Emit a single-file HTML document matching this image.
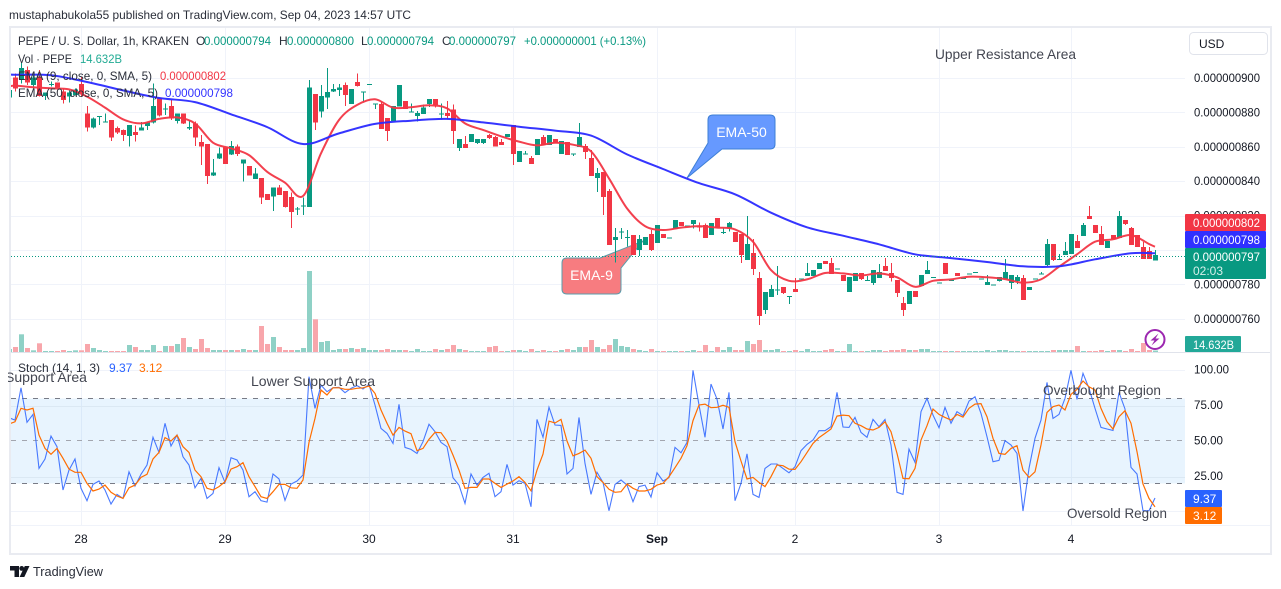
<!DOCTYPE html>
<html lang="en">
<head>
<meta charset="utf-8">
<title>PEPE / U.S. Dollar chart</title>
<style>
html,body{margin:0;padding:0;background:#fff;width:1281px;height:589px;overflow:hidden}
svg{display:block;font-family:"Liberation Sans",sans-serif}
text{white-space:pre}
</style>
</head>
<body>
<svg id="chart" xmlns="http://www.w3.org/2000/svg" width="1281" height="589" viewBox="0 0 1281 589">
<defs>
<clipPath id="priceClip"><rect x="11" y="28" width="1174" height="324"/></clipPath>
<clipPath id="stochClip"><rect x="11" y="353" width="1174" height="172"/></clipPath>
<clipPath id="textClip"><rect x="8" y="353" width="400" height="172"/></clipPath>
</defs>
<rect width="1281" height="589" fill="#fff"/>
<text x="9" y="19" font-size="12" fill="#2a2e39" textLength="402" lengthAdjust="spacingAndGlyphs">mustaphabukola55 published on TradingView.com, Sep 04, 2023 14:57 UTC</text>
<rect x="10" y="27" width="1261" height="527" fill="none" stroke="#e9ebf1" stroke-width="2"/>
<g id="gridLayer"></g>
<g clip-path="url(#priceClip)">
  <path d="M567,258 H600 L643,241 L621,268 V289 Q621,294 616,294 H567 Q562,294 562,289 V263 Q562,258 567,258 Z" fill="#f77c80" stroke="#5b9cab" stroke-width="1"/>
  <path d="M713,115 H770 Q775,115 775,120 V144 Q775,149 770,149 H722 L687,178 L708,143 V120 Q708,115 713,115 Z" fill="#6699ff" stroke="#3d7fd6" stroke-width="1"/>
  <g id="volumeLayer"></g>
  <g id="candleLayer" shape-rendering="crispEdges"></g>
  <g id="emaLayer"></g>
  <line x1="11" x2="1185" y1="256.5" y2="256.5" stroke="#089981" stroke-width="1" stroke-dasharray="1 2"/>
  <text x="591.5" y="280" font-size="14" fill="#fff" text-anchor="middle">EMA-9</text>
  <text x="741.5" y="137" font-size="14" fill="#fff" text-anchor="middle">EMA-50</text>
  <text x="935" y="59" font-size="14" fill="#434651" textLength="141" lengthAdjust="spacingAndGlyphs">Upper Resistance Area</text>
</g>
<g id="stochGrid"></g>
<g id="stochLayer" clip-path="url(#stochClip)"></g>
<line x1="11" x2="1270" y1="352.5" y2="352.5" stroke="#e0e3eb" stroke-width="1"/>
<line x1="11" x2="1270" y1="525.5" y2="525.5" stroke="#f0f3fa" stroke-width="1"/>
<g id="axisLayer"></g>

<g font-size="12" fill="#2a2e39">
  <text x="18" y="45" textLength="171" lengthAdjust="spacingAndGlyphs">PEPE / U. S. Dollar, 1h, KRAKEN</text>
  <text x="196" y="45">O</text>
  <text x="204" y="45" fill="#089981" textLength="67" lengthAdjust="spacingAndGlyphs">0.000000794</text>
  <text x="279" y="45">H</text>
  <text x="287" y="45" fill="#089981" textLength="67" lengthAdjust="spacingAndGlyphs">0.000000800</text>
  <text x="361" y="45">L</text>
  <text x="367" y="45" fill="#089981" textLength="67" lengthAdjust="spacingAndGlyphs">0.000000794</text>
  <text x="442" y="45">C</text>
  <text x="449" y="45" fill="#089981" textLength="67" lengthAdjust="spacingAndGlyphs">0.000000797</text>
  <text x="524" y="45" fill="#089981" textLength="122" lengthAdjust="spacingAndGlyphs">+0.000000001 (+0.13%)</text>
  <text x="18" y="63" textLength="54" lengthAdjust="spacingAndGlyphs">Vol · PEPE</text>
  <text x="80" y="63" fill="#22ab94" textLength="42" lengthAdjust="spacingAndGlyphs">14.632B</text>
  <text x="18" y="80" textLength="134" lengthAdjust="spacingAndGlyphs">EMA (9, close, 0, SMA, 5)</text>
  <text x="160" y="80" fill="#f23645" textLength="66" lengthAdjust="spacingAndGlyphs">0.000000802</text>
  <text x="18" y="97" textLength="140" lengthAdjust="spacingAndGlyphs">EMA (50, close, 0, SMA, 5)</text>
  <text x="165" y="97" fill="#3333ff" textLength="68" lengthAdjust="spacingAndGlyphs">0.000000798</text>
  <text x="18" y="372" textLength="82" lengthAdjust="spacingAndGlyphs">Stoch (14, 1, 3)</text>
  <text x="109" y="372" fill="#2962ff">9.37</text>
  <text x="139" y="372" fill="#ff6d00">3.12</text>
</g>

<g clip-path="url(#textClip)">
  <text x="5" y="382" font-size="14" fill="#434651" textLength="82" lengthAdjust="spacingAndGlyphs">Support Area</text>
</g>
<text x="251" y="386" font-size="14" fill="#434651" textLength="124" lengthAdjust="spacingAndGlyphs">Lower Support Area</text>
<text x="1043" y="395" font-size="14" fill="#434651" textLength="118" lengthAdjust="spacingAndGlyphs">Overbought Region</text>
<text x="1067" y="518" font-size="14" fill="#434651" textLength="100" lengthAdjust="spacingAndGlyphs">Oversold Region</text>

<rect x="1189.5" y="32.5" width="78" height="22" rx="4" fill="#fff" stroke="#e0e3eb"/>
<text x="1199" y="48" font-size="12" fill="#131722">USD</text>

<g>
  <rect x="1185" y="214" width="81" height="17" rx="1" fill="#f23645"/>
  <text x="1193" y="227" font-size="12" fill="#fff" textLength="67" lengthAdjust="spacingAndGlyphs">0.000000802</text>
  <rect x="1185" y="231" width="81" height="17" rx="1" fill="#3030ff"/>
  <text x="1193" y="244" font-size="12" fill="#fff" textLength="67" lengthAdjust="spacingAndGlyphs">0.000000798</text>
  <rect x="1185" y="248" width="81" height="31" rx="1" fill="#089981"/>
  <text x="1193" y="261" font-size="12" fill="#fff" textLength="67" lengthAdjust="spacingAndGlyphs">0.000000797</text>
  <text x="1193" y="275" font-size="12" fill="#d5efe9">02:03</text>
  <rect x="1185" y="336" width="56" height="16" rx="1" fill="#22a898"/>
  <text x="1193" y="349" font-size="12" fill="#fff" textLength="41" lengthAdjust="spacingAndGlyphs">14.632B</text>
  <rect x="1185" y="490" width="37" height="17" rx="1" fill="#2962ff"/>
  <text x="1193" y="503" font-size="12" fill="#fff">9.37</text>
  <rect x="1185" y="507" width="37" height="17" rx="1" fill="#ff6d00"/>
  <text x="1193" y="520" font-size="12" fill="#fff">3.12</text>
</g>

<g>
  <circle cx="1155" cy="339.5" r="9.5" fill="#fff" fill-opacity="0.7" stroke="#9c27b0" stroke-width="2"/>
  <polygon points="1158.5,333.5 1150.5,340.5 1154.5,340.5 1151.5,345.5 1159.5,338.5 1155.5,338.5" fill="#9c27b0"/>
</g>

<g fill="#131722">
  <path d="M10,566 H19 V577 H14.5 V570.5 H10 Z"/>
  <circle cx="21.7" cy="568.4" r="2.4"/>
  <path d="M19.6,577 L24.8,566 H29.5 L24.3,577 Z"/>
</g>
<text x="33" y="576" font-size="13" fill="#2a2e39" textLength="70" lengthAdjust="spacingAndGlyphs">TradingView</text>
</svg>

<script>
// Prices are in units of 0.000000001 USD; volumes in billions. Index 0 is the clipped bar at the left edge.
const opens = [
888.8,900.4,898.9,904.7,896,900.8,889.5,896,897.3,892.1,
889.2,890.1,896.5,879.5,871.1,877.5,874.2,875.6,870.9,869.8,
866.3,868.6,869.4,872.1,874,888.8,881.6,883.7,875,879.5,
870.7,873.6,862.8,861.6,843.2,853.1,859.7,855.4,860.1,850.2,
848.8,841.4,841.8,832.5,831,836.4,834.3,830.8,823.6,825.5,
825.1,890.7,880.4,888.6,892.1,893,896,884.9,897.7,891.9,
896.3,885.1,884.9,876.7,875,883.3,886.6,880.4,877.9,879.1,
884.9,887.8,879.3,879.7,881.8,859.3,861.6,862.8,862.2,862.2,
866.9,865.7,862.8,865.7,872.7,851.1,856,853.5,855.2,865.7,
861,864.5,855.8,862.8,856,859.9,860.4,853.5,841.8,845.3,
834.3,805.8,810.4,807.4,808.7,800,802.9,809.3,804.1,809.3,
807.3,812.2,816.3,814,815.1,813.6,814.5,808.7,818.6,810.4,
812.8,810.5,809.3,794.2,798.2,783.7,765.1,772.6,776.9,778.4,
773,777.3,783.4,784.8,784.8,788.9,793.6,792.4,789.2,785.4,
775.5,781.9,786.6,782.5,780.8,783.7,790.7,786.6,782.5,769.1,
768.5,776.1,779,786,784.1,781.1,792.4,782.4,786.6,783.6,
786.3,787.1,783.4,779.6,779.7,781.9,783.1,780.8,781.9,783.7,
776.7,783.4,786.3,791.2,803.5,794.7,797.1,797.6,805.2,808.1,
819.8,814.5,809.3,801.1,808.7,807,817.4,812.8,808.7,801.7,
799.4,794];
const highs = [
893,902.7,908.6,906.6,902.7,904.7,891.7,897.9,897.3,894,
893,894,900.8,883.7,877.1,877.9,879.5,875.6,871.7,870.1,
872.7,872.5,874.4,874.6,896.9,888.8,885.3,887.2,879.5,879.5,
875.6,874.6,866.9,861.6,852.9,859.7,859.7,863.5,861.4,852.7,
848.8,847.8,841.8,832.5,836.4,837.8,834.3,833.5,825.1,830.4,
898.9,890.7,896,905.7,896.5,896.5,897.5,893.6,902.7,892.1,
896.5,885.3,886.3,876.7,883.7,896,886.6,885.3,880.8,884.7,
887.8,887.8,885.3,886.6,884.7,864.5,866.3,867.4,864.5,864.5,
867.4,866.3,864.5,867.4,872.7,857.5,857.5,854.6,864.5,866.9,
866.9,864.5,863.4,862.8,856.2,873.8,861.6,858.1,847.6,845.3,
835.4,812.8,812.8,811.6,808.7,808.7,807.5,811.6,814.5,809.3,
807.4,817.4,816.3,814.1,817.4,815.9,815.5,815.7,818.6,812.8,
816.3,810.5,809.3,819.8,806.4,787.2,775.5,779.6,790.7,778.4,
773.2,783.7,783.5,792.4,788.3,792.4,793.6,795.3,789.3,785.4,
784.3,786.6,786.6,784.8,788.3,791.8,795.3,792.4,782.5,772.6,
776.1,776.1,785.4,793.6,784.2,781.2,792.4,782.5,786.6,783.7,
786.4,787.2,783.5,785.4,779.8,784.3,794.7,785.4,785.4,785.4,
778.4,783.5,787.2,806.4,803.5,797.7,804.6,809.3,808.7,815.7,
825.6,814.5,813.9,805.2,808.7,822.7,817.4,813.4,808.7,804.6,
801.7,800];
const lows = [
888.8,892.1,896.9,896,894,889.2,887.2,895,894.6,885.3,
885.7,889.7,889.2,868.8,870.7,872.7,874,863.5,867.4,863.3,
860.1,863,869.4,869.8,873.6,877.5,878.5,875.6,873.6,873.3,
869.8,860.4,849.4,838.3,843,852.9,850,855.2,854.6,839.7,
843.2,841.2,826.7,829,822.8,831.9,824.8,812.9,820.3,820.3,
825.1,869.8,877,882,891.9,889.5,883.7,884.9,895,885.9,
896.3,882,870.3,863.4,875,883.3,882,880.4,874.6,879.1,
883,882.8,876,876,861.6,857.5,859.3,862.8,861.6,861.6,
864.5,860.1,861,865.7,849.4,851.1,855.8,850,855.2,861,
861,862.2,855.8,855.2,854.6,859.9,852.9,843,833.7,820.3,
802.8,792.6,806.4,801.9,797.1,796.5,802.9,799.4,804.1,807,
807.3,812.2,813.9,814,812.6,810.7,807,808.7,812.8,809.3,
810.7,804.6,792.4,794.2,785.4,756.3,762.7,772.6,773.8,774.4,
768.6,775.5,783.4,784.8,784.8,788.9,791.8,786,789.2,781.9,
775.5,781.9,782.5,781.9,779.6,783.7,787.8,781.6,772.6,761.6,
768.5,772.6,779,786,784.1,781.1,786,782.4,784.8,783.6,
786.3,787.1,783.4,779.6,779.7,781.6,783.1,777.3,780.2,770.9,
776.7,783.4,786,790.7,793.6,794.2,797.1,797.6,801.1,808.1,
818,809.9,802.9,801.1,806.4,807,814.5,802.9,801.7,794.8,
794.8,794];
const closes = [
893,894,905.7,897.3,900.4,889.5,891.7,896.5,894.6,887.2,
891.7,893.4,891.1,871.1,876.5,877.9,874.6,865.3,868.2,866.9,
872.7,867,871.3,874.2,883.7,878.1,882.2,876.4,879.5,873.6,
871.5,865.5,860.1,843,845.1,856.2,850,860.4,855.8,852.7,
843.2,844.5,830.4,829.2,836.4,832.1,824.9,822,824,825.9,
894.6,874,889.5,891.9,893.6,894.6,890.1,893.6,895.4,892.1,
896.5,885.3,870.3,869.2,883.7,896,882,880.6,879.7,882.8,
887.8,884.3,879.5,877.9,869.2,864.5,859.3,867.4,864.5,864.5,
865.1,860.1,861,867.4,855.8,857.5,856.2,850,864.5,861,
866.9,862.2,863.4,855.2,856.2,865.7,857,843,844.7,830.8,
802.8,807.5,810.7,807.6,797.1,806.4,807.5,800,814.5,807,
807.4,817.4,813.9,814.1,817.4,813.4,807,815.7,812.8,810.6,
815.7,804.6,797.1,803.5,788.9,761.6,775.5,777.3,777.1,775,
773.2,775.5,783.5,786.6,788.3,792.4,791.8,786,789.3,781.9,
784.3,786.6,783.1,782.7,788.3,787.2,787.8,783.7,775,765.1,
776.1,772.6,785.4,788.3,784.2,781.2,786,782.5,784.8,783.7,
786.4,787.2,783.5,781.4,779.8,784.3,787.2,785.4,784.3,770.9,
778.4,783.5,786.4,803.5,794.2,794.8,799.4,809.3,801.1,814.5,
818,809.9,802.9,805.2,806.4,819.8,815.1,802.9,801.7,794.8,
794.8,797];
const volumes = [
30,50,177,40,17,87,10,10,10,20,
10,17,17,80,40,20,10,10,10,10,
70,50,20,20,70,10,60,60,80,140,
50,30,130,40,20,20,20,20,20,30,
20,20,260,80,150,50,20,20,20,40,
810,327,100,110,20,30,30,40,30,40,
20,20,20,30,20,20,20,10,30,10,
10,30,20,30,70,30,20,10,10,10,
50,60,10,10,20,20,10,30,10,20,
10,10,20,30,20,50,50,120,50,30,
70,130,60,50,30,20,10,30,10,10,
10,10,10,10,20,10,70,10,50,20,
50,20,20,110,80,120,20,20,30,10,
10,20,10,30,10,10,20,30,10,10,
80,10,10,10,20,20,10,20,20,30,
20,20,30,30,10,10,10,10,10,10,
10,10,10,20,10,20,20,10,10,10,
10,10,10,10,20,20,20,20,60,10,
10,10,20,10,20,20,10,30,10,90,
20,14.632];

const ema9Bars = [0,1,4,7,10,13,16,19,22,25,28,31,34,37,40,43,46,49,52,55,58,61,64,67,70,73,76,79,82,85,88,91,94,97,100,103,106,109,112,115,118,121,124,127,130,133,136,139,142,145,148,151,154,157,160,163,166,169,172,175,178,181,184,187,190,191];
const ema9Values = [895,895.6,894.6,894,893.4,889.2,882.8,876,873.6,876.2,877.1,873.6,862.4,859.1,855.2,845.5,839.1,831.4,856.2,875.6,884.3,887.6,882.8,883,884.1,882.4,873.6,869.8,866.1,863,860.8,862.4,861.2,857.3,841.6,824.2,813.9,811.6,813,813.9,813,812,804.8,788.3,782.1,782.9,786.6,786.4,785.2,786.4,784.1,778.6,782.1,782.9,784.5,784.1,783.1,781,782.9,790.3,797.5,804.8,806.2,808.7,803.5,801.9];
const ema50Bars = [0,1,7,13,19,25,31,37,43,49,55,61,67,73,79,85,91,97,103,109,115,121,127,133,139,145,151,157,163,169,175,181,187,191];
const ema50Values = [902.1,901.9,901.6,897.7,892.8,888.4,886,878.9,871.5,861.6,867.8,873.3,875.2,876.2,874.2,871.7,869.4,866.5,855.6,847.1,838.9,832.4,821.7,813.2,808.3,803.3,797.5,795.3,793,790.5,790.5,794.6,798.1,798.1];

const stochK = [
66.1,64.4,87.2,62.8,68.4,30.3,36.9,53.1,45.6,15,
29.1,36.9,16.2,7.5,19,21.4,15,5.1,11.9,9.1,
27.9,17.8,26.1,32.7,52.2,41.6,62.1,46.1,53.8,38.5,
32.7,16.6,23.2,9.1,12.6,30.8,20.4,37.8,36.2,29.1,
10.3,13.8,7.5,6.5,26.3,22.8,7.7,19.2,21.4,25.6,
95,72.6,89.1,84.4,87.2,87.5,83.7,86.8,88.7,86.3,
89.6,75,58.5,55,47.9,75.5,45.1,43.7,40.9,49.1,
61.4,56.2,48.6,45.6,23.7,18.5,5.6,26.3,18.5,23.9,
26.8,10.3,13.8,33.1,18.5,21.6,19.7,3.2,64.9,52.2,
73.4,60.9,60.6,26.3,30.3,66.3,33.8,11.9,27.5,20.4,
0.4,19,22.1,18.5,6.8,17.4,18.5,10.1,27.2,21.4,
23.7,45.1,41.3,48.6,99.5,75,52.2,89.8,79.2,58.1,
83.9,7.5,19.7,40.6,11.9,9.8,30.3,33.4,33.4,30.3,
27.2,31.5,42.8,47.2,50.3,56.9,56.9,59.7,83.9,59.5,
59.2,66.3,55.7,52.2,64.9,59.7,64.9,46.8,13.4,11.9,
43.9,34.5,70.3,79.7,67.9,59,73.4,62.1,70.3,67.5,
77.8,80.9,69.1,52.6,35,35.9,49.8,46.8,40.9,0.2,
30.3,51.5,64.4,91,65.6,68.4,79.7,99.5,79,97.4,
86.8,72.6,59.2,58.1,57.1,83.9,72.2,31,26.3,0.4,
0.4,9.37];
const stochD = [
61.6,63.2,72.7,71.5,72.7,53.8,44.4,40.2,44.4,37.4,
29.8,27.5,27.5,19.7,14.3,15.7,18.5,13.4,10.8,9.1,
16.6,18.5,23.9,26.1,36.9,41.6,52,49.6,53.8,45.6,
41.6,29.1,24.4,16.2,15,17.4,20.9,29.8,31.5,34.3,
24.4,17.4,10.3,9.1,13.8,19,19,16.6,16.2,22.1,
48.6,65.6,85.6,82.1,87.2,87.2,86.1,86.1,86.8,87.2,
88.4,83.2,71.5,62.1,53.8,59.2,56.6,54.8,42.8,44.4,
50.8,55.7,55.5,49.6,39.7,29.1,16.2,16.9,16.9,22.8,
22.8,19.7,16.9,19.2,21.4,24.4,20.4,14.5,29.1,40.4,
63.7,62.3,64.9,49.6,39.2,40.9,43.2,37.4,24.4,20.4,
15.5,13.4,13.8,19.2,16.2,14.3,14.3,15.5,18.5,19.7,
24.4,30.8,37.4,46.3,64,75,75.7,73.1,73.4,74.8,
73.4,49.1,35.5,22.8,23.9,20.4,17.4,24.4,32.7,32.2,
29.8,29.6,35,41.4,47.9,52,55,58.1,67.2,67.9,
67.5,62.1,60.4,58.1,57.4,59.2,63.2,56.2,40.9,23.2,
23,30.3,50.3,60.4,72.2,68.4,66.3,64.4,68.4,66.5,
72.7,75.7,76,66.8,51.5,40.9,40.2,44.4,46.3,29.1,
23.9,27.9,46.8,69.8,73.8,75,71.5,82.5,86.1,92,
87.9,85.6,72.6,63.2,58.1,66.8,71,62.1,42.1,19.2,
9.1,3.12];

const priceTicks = [900,880,860,840,820,800,780,760];
const stochTicks = [100,75,50,25];
const stochGridLevels = [100,75,25,0];
const stochDashLevels = [80,50,20];
const timeBars = [12,36,60,84,108,131,155,177];
const timeLabels = ['28','29','30','31','Sep','2','3','4'];

const NS = 'http://www.w3.org/2000/svg';
const barX = i => 9 + i * 6;
const priceY = p => 78 + (900 - p) * 1.72;
const volumeY = v => 352 - v * 0.1;
const stochY = v => 511.3 - v * 1.4167;
const UP = '#089981', DOWN = '#f23645';

function mk(tag, attrs, parent) {
  const el = document.createElementNS(NS, tag);
  for (const k in attrs) el.setAttribute(k, attrs[k]);
  parent.appendChild(el);
  return el;
}
const $ = id => document.getElementById(id);

// Grid
priceTicks.forEach(p => {
  const l = mk('line', {x1: 11, x2: 1185, y1: Math.round(priceY(p)) + .5, y2: Math.round(priceY(p)) + .5, stroke: '#f0f3fa'}, $('gridLayer'));
  
  
});
timeBars.forEach(b => {
  const l = mk('line', {x1: barX(b) + .5, x2: barX(b) + .5, y1: 28, y2: 525, stroke: '#f0f3fa'}, $('gridLayer'));
  
  
});

// Volume
volumes.forEach((v, i) => {
  const top = volumeY(v);
  const r = mk('rect', {x: barX(i) - 2, y: top, width: 5, height: 352 - top, fill: closes[i] >= opens[i] ? '#8fd1c6' : '#f8a6ab'}, $('volumeLayer'));
  
  
});

// Candles
opens.forEach((o, i) => {
  const c = closes[i], color = c >= o ? UP : DOWN;
  const x = barX(i);
  const w = mk('rect', {x: x, y: priceY(highs[i]), width: 1, height: Math.max(1, priceY(lows[i]) - priceY(highs[i])), fill: color}, $('candleLayer'));
  
  
  const top = priceY(Math.max(o, c)), bot = priceY(Math.min(o, c));
  const b = mk('rect', {x: x - 2, y: top, width: 5, height: Math.max(1, bot - top), fill: color}, $('candleLayer'));
  
  
});

// EMA lines: a smooth curve passes through each value
function smoothPath(bars, vals, fy) {
  const p = bars.map((b, i) => [barX(b), fy(vals[i])]);
  let d = 'M' + p[0][0] + ',' + p[0][1].toFixed(1);
  for (let i = 0; i < p.length - 1; i++) {
    const a = p[Math.max(0, i - 1)], b = p[i], c = p[i + 1], e = p[Math.min(p.length - 1, i + 2)];
    const k = 1 / 6;
    d += ' C' + (b[0] + (c[0] - a[0]) * k).toFixed(1) + ',' + (b[1] + (c[1] - a[1]) * k).toFixed(1) +
         ' ' + (c[0] - (e[0] - b[0]) * k).toFixed(1) + ',' + (c[1] - (e[1] - b[1]) * k).toFixed(1) +
         ' ' + c[0] + ',' + c[1].toFixed(1);
  }
  return d;
}
const emaFast = mk('path', {d: smoothPath(ema9Bars, ema9Values, priceY), fill: 'none', stroke: '#f23645', 'stroke-width': 2, 'stroke-linejoin': 'round', 'stroke-opacity': .95}, $('emaLayer'));


const emaSlow = mk('path', {d: smoothPath(ema50Bars, ema50Values, priceY), fill: 'none', stroke: '#2a2aff', 'stroke-width': 2, 'stroke-linejoin': 'round', 'stroke-opacity': .95}, $('emaLayer'));



// Stochastic background and levels
const snapY = v => Math.round(stochY(v)) + .5;
const band = mk('rect', {x: 11, y: snapY(80), width: 1174, height: snapY(20) - snapY(80), fill: '#2196f3', 'fill-opacity': .1}, $('stochGrid'));


stochGridLevels.forEach(v => {
  const inBand = v > 20 && v < 80;
  const y = snapY(v) + (inBand ? 1 : 0);
  const l = mk('line', {x1: 11, x2: 1185, y1: y, y2: y, stroke: inBand ? '#dbe8f3' : '#f0f3fa'}, $('stochGrid'));
  
  
});
stochDashLevels.forEach(v => {
  const l = mk('line', {x1: 11, x2: 1185, y1: snapY(v), y2: snapY(v), stroke: v === 50 ? '#a3a6af' : '#787b86', 'stroke-dasharray': '5 6'}, $('stochGrid'));
  
  
});

// Stochastic lines
const allBars = stochK.map((_, i) => i);
const toPts = (bars, vals, fy) => bars.map((b, i) => barX(b) + ',' + fy(vals[i]).toFixed(1)).join(' ');
const kLine = mk('polyline', {points: toPts(allBars, stochK, stochY), fill: 'none', stroke: '#2962ff', 'stroke-width': 1.1, 'stroke-opacity': .85}, $('stochLayer'));


const dLine = mk('polyline', {points: toPts(allBars, stochD, stochY), fill: 'none', stroke: '#ff6d00', 'stroke-width': 1.2}, $('stochLayer'));



// Axis labels
priceTicks.forEach(p => {
  const t = mk('text', {x: 1194, y: priceY(p) + 4, 'font-size': 12, fill: '#131722', textLength: 66, lengthAdjust: 'spacingAndGlyphs'}, $('axisLayer'));
  t.textContent = '0.000000' + p;
  
  
});
stochTicks.forEach(v => {
  const t = mk('text', {x: 1194, y: stochY(v) + 4, 'font-size': 12, fill: '#131722', textLength: v === 100 ? 35 : 29, lengthAdjust: 'spacingAndGlyphs'}, $('axisLayer'));
  t.textContent = v.toFixed(2);
  
  
});
timeBars.forEach((b, i) => {
  const t = mk('text', {x: barX(b), y: 543, 'font-size': 12, fill: '#131722', 'text-anchor': 'middle', 'font-weight': timeLabels[i] === 'Sep' ? 'bold' : 'normal'}, $('axisLayer'));
  t.textContent = timeLabels[i];
  
  
});
</script>
</body>
</html>
